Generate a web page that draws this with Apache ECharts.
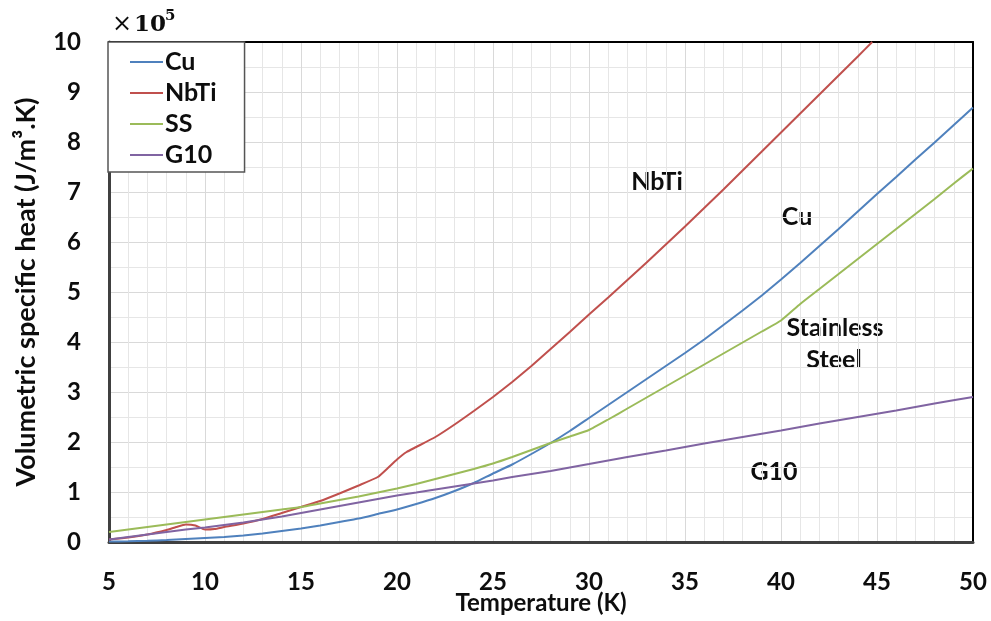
<!DOCTYPE html>
<html>
<head>
<meta charset="utf-8">
<script src="https://cdn.jsdelivr.net/npm/echarts@6/dist/echarts.min.js"></script>
<style>
html,body{margin:0;padding:0;background:#fff;}
#chart{width:991px;height:621px;}
</style>
</head>
<body>
<div id="chart"></div>
<script>
// ---- data (values in units of 1e5 J/m^3.K) ----
const seriesNames = ['Cu', 'NbTi', 'SS', 'G10'];
const xTicks = [5, 10, 15, 20, 25, 30, 35, 40, 45, 50];
const yTicks = [0, 1, 2, 3, 4, 5, 6, 7, 8, 9, 10];

const cuT = [5,6,7,8,9,10,11,12,13,14,15,16,17,18,19,20,21,22,23,24,25,26,27,28,29,30,31,32,33,34,35,36,37,38,39,40,41,42,43,44,45,46,47,48,49,50];
const cuV = [0.01,0.015,0.025,0.04,0.06,0.08,0.1,0.13,0.17,0.22,0.27,0.33,0.4,0.47,0.56,0.65,0.76,0.88,1.02,1.18,1.37,1.55,1.76,1.98,2.22,2.48,2.74,3.0,3.26,3.52,3.78,4.05,4.34,4.63,4.93,5.25,5.58,5.92,6.26,6.61,6.96,7.3,7.65,7.99,8.34,8.69];

const nbtiT = [5,6,7,8,8.5,9,9.5,10,10.5,11,12,13,14,15,16,17,18,19,19.5,20,20.5,21,22,23,24,25,26,27,28,29,30,31,32,33,34,35,36,37,38,39,40,41,42,43,44,44.75];
const nbtiV = [0.05,0.09,0.15,0.24,0.3,0.35,0.33,0.25,0.26,0.3,0.37,0.46,0.58,0.7,0.82,0.97,1.13,1.3,1.47,1.65,1.8,1.9,2.1,2.35,2.62,2.9,3.2,3.52,3.86,4.2,4.55,4.89,5.24,5.59,5.95,6.31,6.68,7.05,7.43,7.81,8.19,8.57,8.95,9.33,9.71,10.0];

const ssT = [5,6,7,8,9,10,11,12,13,14,15,16,17,18,19,20,21,22,23,24,25,26,27,28,29,30,31,32,33,34,35,36,37,38,39,40,41,42,43,44,45,46,47,48,49,50];
const ssV = [0.2,0.25,0.3,0.35,0.4,0.45,0.5,0.55,0.6,0.65,0.7,0.77,0.84,0.91,0.99,1.07,1.16,1.26,1.36,1.46,1.57,1.7,1.84,1.98,2.11,2.24,2.45,2.67,2.89,3.11,3.33,3.55,3.77,3.99,4.21,4.43,4.76,5.06,5.36,5.66,5.96,6.26,6.56,6.86,7.17,7.47];

const g10T = [5,6,7,8,9,10,11,12,13,14,15,16,17,18,19,20,21,22,23,24,25,26,27,28,29,30,32,34,36,38,40,42,44,46,48,50];
const g10V = [0.05,0.1,0.15,0.2,0.25,0.29,0.34,0.39,0.45,0.51,0.58,0.65,0.72,0.79,0.86,0.93,0.99,1.05,1.11,1.17,1.23,1.3,1.36,1.42,1.49,1.56,1.7,1.83,1.97,2.1,2.23,2.37,2.5,2.63,2.77,2.9];

const colors = ['#4F81BD', '#C0504D', '#9BBB59', '#8064A2'];

function zip(t, v) { return t.map((x, i) => [x, v[i]]); }

const FONT = 'Lato';
const SERIF = 'DejaVu Serif';
const TXT = '#0d0d0d';
const chart = echarts.init(document.getElementById('chart'));

function label(x, y, text) {
  return { type: 'text', x: x, y: y, style: { text: text, fontFamily: FONT, fontWeight: 'bold', fontSize: 25, fill: TXT, align: 'center', verticalAlign: 'middle' } };
}

const option = {
  animation: false,
  backgroundColor: '#fff',
  color: colors,
  grid: { left: 109, right: 18, top: 42, bottom: 79, outerBoundsMode: 'none', containLabel: false },
  legend: {
    left: 108, top: 42,
    orient: 'vertical',
    data: seriesNames,
    icon: 'rect',
    itemWidth: 33, itemHeight: 2, itemGap: 5,
    padding: [7, 28, 4, 22],
    backgroundColor: '#fff',
    borderColor: '#555', borderWidth: 1.5,
    textStyle: { fontFamily: FONT, fontWeight: 'bold', fontSize: 25, color: TXT, padding: [0,0,0,-3], lineHeight: 26 }
  },
  xAxis: [{
    type: 'value', min: xTicks[0], max: xTicks[xTicks.length - 1], interval: 5,
    name: 'Temperature (K)', nameLocation: 'middle', nameGap: 49, nameMoveOverlap: false,
    nameTextStyle: { fontFamily: FONT, fontWeight: 'bold', fontSize: 24, color: TXT },
    axisLine: { show: true, lineStyle: { color: '#404040', width: 3 } },
    axisTick: { show: false },
    axisLabel: { fontFamily: FONT, fontWeight: 'bold', fontSize: 24, color: TXT, margin: 28 },
    splitLine: { show: true, lineStyle: { color: '#d9d9d9', width: 1 } },
    minorTick: { show: false, splitNumber: 5 },
    minorSplitLine: { show: true, lineStyle: { color: '#e6e6e6', width: 1 } }
  }, {
    type: 'value', position: 'top', min: 5, max: 50,
    axisLine: { show: true, onZero: false, lineStyle: { color: '#000', width: 2 } },
    axisTick: { show: false }, axisLabel: { show: false }, splitLine: { show: false }
  }],
  yAxis: [{
    type: 'value', min: yTicks[0], max: yTicks[yTicks.length - 1], interval: 1,
    name: 'Volumetric specific heat (J/m\u00B3.K)', nameLocation: 'middle', nameGap: 69,
    nameTextStyle: { fontFamily: FONT, fontWeight: 'bold', fontSize: 27, color: TXT },
    axisLine: { show: true, lineStyle: { color: '#404040', width: 3 } },
    axisTick: { show: false },
    axisLabel: { fontFamily: FONT, fontWeight: 'bold', fontSize: 24, color: TXT, margin: 28 },
    splitLine: { show: true, lineStyle: { color: '#d9d9d9', width: 1 } },
    minorTick: { show: false, splitNumber: 2 },
    minorSplitLine: { show: true, lineStyle: { color: '#e6e6e6', width: 1 } }
  }, {
    type: 'value', position: 'right', min: 0, max: 10,
    axisLine: { show: true, onZero: false, lineStyle: { color: '#000', width: 2 } },
    axisTick: { show: false }, axisLabel: { show: false }, splitLine: { show: false }
  }],
  series: [
    { name: 'Cu', type: 'line', data: zip(cuT, cuV) },
    { name: 'NbTi', type: 'line', data: zip(nbtiT, nbtiV) },
    { name: 'SS', type: 'line', data: zip(ssT, ssV) },
    { name: 'G10', type: 'line', data: zip(g10T, g10V) }
  ].map((s, i) => Object.assign(s, {
    symbol: 'none', smooth: 0.15, clip: true, z: 3,
    lineStyle: { width: 2, color: colors[i] },
    itemStyle: { color: colors[i] }
  })),
  graphic: [
    { type: 'text', x: 112, y: 25, style: { text: '\u00D7', fontFamily: SERIF, fontSize: 24, fill: TXT, verticalAlign: 'middle' } },
    { type: 'text', x: 134, y: 25, style: { text: '10', fontFamily: SERIF, fontWeight: 'bold', fontSize: 23, fill: TXT, verticalAlign: 'middle' } },
    { type: 'text', x: 165, y: 16, style: { text: '5', fontFamily: SERIF, fontWeight: 'bold', fontSize: 15, fill: TXT, verticalAlign: 'middle' } },
    label(657, 182, 'NbTi'),
    label(797, 217, 'Cu'),
    label(835, 328, 'Stainless'),
    label(834, 360, 'Steel'),
    label(774, 472, 'G10')
  ]
};
chart.setOption(option);
</script>
</body>
</html>
